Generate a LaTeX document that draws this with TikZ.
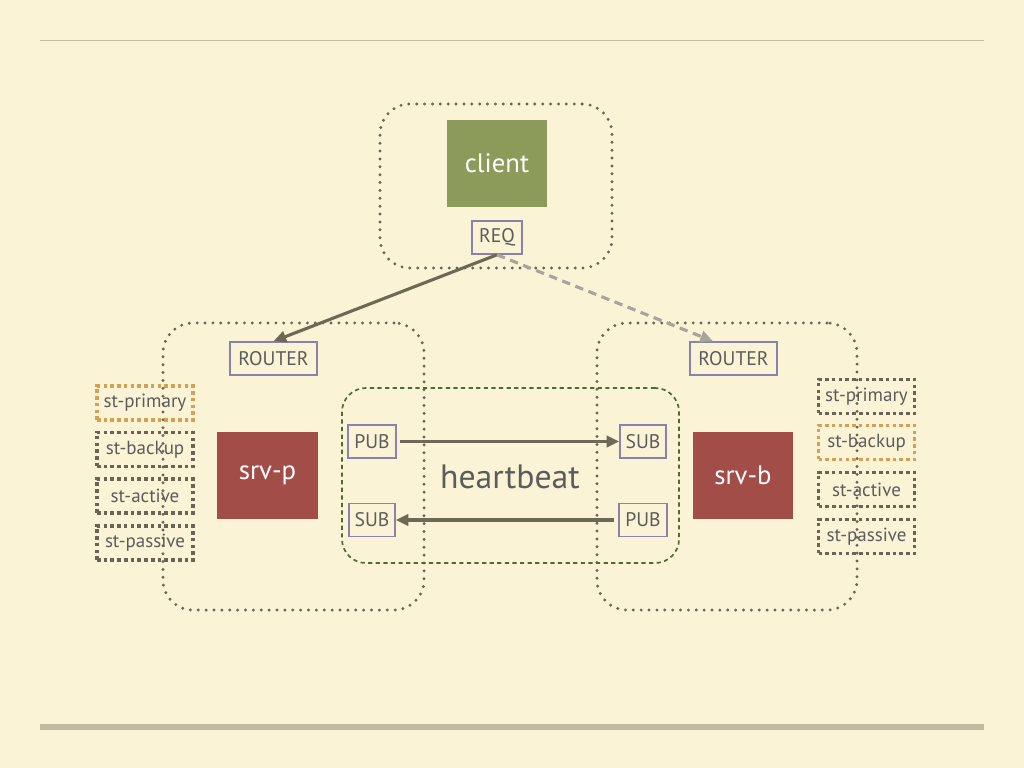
\documentclass[tikz,border=0pt]{standalone}
\usepackage{fontspec}
\setmainfont{PT Sans}
\usetikzlibrary{arrows.meta}

\definecolor{paper}{HTML}{FBF3D5}
\definecolor{rulegray}{HTML}{C2BBA2}
\definecolor{dotgray}{HTML}{6B6455}
\definecolor{hbgreen}{HTML}{4E6A35}
\definecolor{clientgreen}{HTML}{8C9A5A}
\definecolor{srvred}{HTML}{A24D48}
\definecolor{portpurple}{HTML}{8A82A8}
\definecolor{textgray}{HTML}{5C5C5C}
\definecolor{flowbrown}{HTML}{6E6954}
\definecolor{flowlight}{HTML}{A8A49A}
\definecolor{stateorange}{HTML}{D4A055}

\begin{document}
\begin{tikzpicture}
[
	x = 0.025cm, y = -0.025cm,
% Dotted container style
	group/.style={
		draw = dotgray,
		line width = 2.3pt,
		line cap = round,
		dash pattern = on 0pt off 5.6pt,
		rounded corners = 0.75cm},
% Heartbeat container style
	hbgroup/.style={
		draw = hbgreen,
		line width = 1.2pt,
		dash pattern = on 3pt off 2.4pt,
		rounded corners = 0.6cm},
% Process box style
	process/.style={
		fill = #1,
		text = white,
		font = \fontsize{19}{21}\selectfont,
		minimum width = 2.5cm,
		minimum height = 2.175cm,
		inner sep = 0pt},
% Socket style
	socket/.style={
		draw = portpurple,
		line width = 1.1pt,
		text = textgray,
		font = \fontsize{14}{16}\selectfont,
		minimum height = 0.825cm,
		inner sep = 2pt},
% State style
	state/.style={
		draw = #1,
		line width = 2.5pt,
		dash pattern = on 2.5pt off 2.3pt,
		text = textgray,
		font = \fontsize{13.5}{15}\selectfont,
		minimum width = 2.4cm,
		minimum height = 0.85cm,
		inner sep = 0pt},
	state/.default = dotgray,
% Connector style
	flow/.style={
		draw = flowbrown,
		line width = 2.2pt,
		-{Triangle[length=9pt, width=8pt]}},
]

% Page and rules
\fill [paper] (0,0) rectangle (1024,768);
\draw [rulegray, line width = 0.7pt] (40,40) -- (984,40);
\draw [rulegray, line width = 4.2pt] (40,727) -- (984,727);

% Containers
\node[group, minimum width = 5.8cm, minimum height = 4.1cm] (cgroup) at (496,186) {};
\node[group, minimum width = 6.525cm, minimum height = 7.175cm] (pgroup) at (293.5,466.5) {};
\node[group, minimum width = 6.5cm, minimum height = 7.175cm] (bgroup) at (727,466.5) {};
\node[hbgroup, minimum width = 8.425cm, minimum height = 4.375cm] (hb) at (510.5,475.5) {};
\node[text = textgray, font = \fontsize{24}{27}\selectfont] (hblabel) at (510,477) {heartbeat};

% Processes
\node[process = clientgreen] (client) at (497,163.5) {client};
\node[process = srvred] (srvp) at (267.5,475.5) {srv-p};
\node[process = srvred] (srvb) at (743,475.5) {srv-b};

% Sockets
\node[socket, minimum width = 1.25cm] (req) at (497,237.5) {REQ};
\node[socket, minimum width = 2.175cm] (routerp) at (273.5,358.5) {ROUTER};
\node[socket, minimum width = 2.175cm] (routerb) at (733.5,358.5) {ROUTER};
\node[socket, minimum width = 1.2cm] (pubp) at (372,441.5) {PUB};
\node[socket, minimum width = 1.15cm] (subp) at (372,520) {SUB};
\node[socket, minimum width = 1.15cm] (subb) at (643,441.5) {SUB};
\node[socket, minimum width = 1.2cm] (pubb) at (643,520) {PUB};

% States of srv-p
\node[state = stateorange] (pprimary) at (145,403) {st-primary};
\node[state] (pbackup) at (145,449.5) {st-backup};
\node[state] (pactive) at (145,496) {st-active};
\node[state] (ppassive) at (145,543) {st-passive};

% States of srv-b
\node[state] (bprimary) at (866.5,396.5) {st-primary};
\node[state = stateorange] (bbackup) at (866.5,442.5) {st-backup};
\node[state] (bactive) at (866.5,489.5) {st-active};
\node[state] (bpassive) at (866.5,536.5) {st-passive};

% Connectors
\draw [flow] (req.south) -- (routerp.north);
\draw [flow, draw = flowlight, dash pattern = on 6pt off 4pt,
	-{Triangle[length=9pt, width=8pt, fill=flowlight]}] (req.south) -- (routerb.140);
\draw [flow, shorten <= 2pt] (pubp.east) -- (subb.west);
\draw [flow, shorten <= 3pt] (pubb.west) -- (subp.east);

\end{tikzpicture}
\end{document}
